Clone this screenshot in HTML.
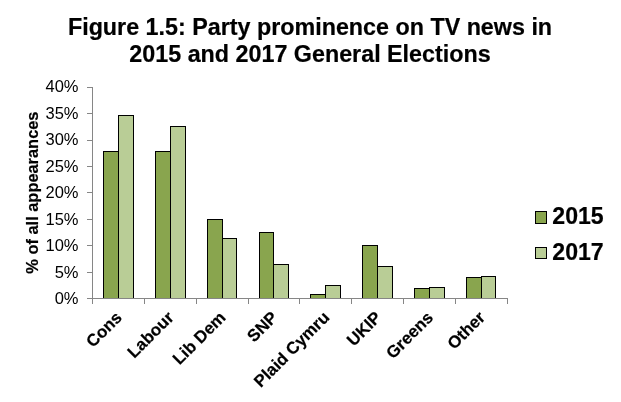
<!DOCTYPE html>
<html><head><meta charset="utf-8"><title>Figure 1.5: Party prominence on TV news in 2015 and 2017 General Elections</title>
<style>
html,body{margin:0;padding:0;background:#fff;}
svg{display:block;will-change:transform;font-family:"Liberation Sans",Arial,sans-serif;}
text{fill:#000;}
.b{font-weight:bold;}
</style></head><body>
<svg width="621" height="402" viewBox="0 0 621 402">
<rect width="621" height="402" fill="#ffffff"/>
<g class="b" font-size="23.3" text-anchor="middle" stroke="#000" stroke-width="0.2" stroke-linejoin="round">
<text transform="translate(310,34.6) scale(1.0,1)">Figure 1.5: Party prominence on TV news in</text>
<text transform="translate(310,61.8) scale(1.0,1)">2015 and 2017 General Elections</text>
</g>
<g font-size="16.5" text-anchor="end">
<text transform="translate(78.5,304) scale(1.0,1)">0%</text>
<text transform="translate(78.5,277.5) scale(1.0,1)">5%</text>
<text transform="translate(78.5,251) scale(1.0,1)">10%</text>
<text transform="translate(78.5,224.5) scale(1.0,1)">15%</text>
<text transform="translate(78.5,198) scale(1.0,1)">20%</text>
<text transform="translate(78.5,171.5) scale(1.0,1)">25%</text>
<text transform="translate(78.5,145) scale(1.0,1)">30%</text>
<text transform="translate(78.5,118.5) scale(1.0,1)">35%</text>
<text transform="translate(78.5,92) scale(1.0,1)">40%</text>
</g>
<g stroke="#000" stroke-width="1" shape-rendering="crispEdges">
<rect x="103.5" y="151.5" width="15" height="147" fill="#89a54e"/>
<rect x="118.5" y="115.5" width="15" height="183" fill="#b9cd96"/>
<rect x="155.5" y="151.5" width="15" height="147" fill="#89a54e"/>
<rect x="170.5" y="126.5" width="15" height="172" fill="#b9cd96"/>
<rect x="207.5" y="219.5" width="15" height="79" fill="#89a54e"/>
<rect x="222.5" y="238.5" width="14" height="60" fill="#b9cd96"/>
<rect x="259.5" y="232.5" width="14" height="66" fill="#89a54e"/>
<rect x="273.5" y="264.5" width="15" height="34" fill="#b9cd96"/>
<rect x="310.5" y="294.5" width="15" height="4" fill="#89a54e"/>
<rect x="325.5" y="285.5" width="15" height="13" fill="#b9cd96"/>
<rect x="362.5" y="245.5" width="15" height="53" fill="#89a54e"/>
<rect x="377.5" y="266.5" width="15" height="32" fill="#b9cd96"/>
<rect x="414.5" y="288.5" width="15" height="10" fill="#89a54e"/>
<rect x="429.5" y="287.5" width="15" height="11" fill="#b9cd96"/>
<rect x="466.5" y="277.5" width="15" height="21" fill="#89a54e"/>
<rect x="481.5" y="276.5" width="14" height="22" fill="#b9cd96"/>
</g>
<g stroke="#868686" stroke-width="1" fill="none" shape-rendering="crispEdges">
<line x1="92.5" y1="87" x2="92.5" y2="299"/>
<line x1="87" y1="298.5" x2="508" y2="298.5"/>
<line x1="87" y1="272.5" x2="92.5" y2="272.5"/>
<line x1="87" y1="245.5" x2="92.5" y2="245.5"/>
<line x1="87" y1="219.5" x2="92.5" y2="219.5"/>
<line x1="87" y1="192.5" x2="92.5" y2="192.5"/>
<line x1="87" y1="166.5" x2="92.5" y2="166.5"/>
<line x1="87" y1="140.5" x2="92.5" y2="140.5"/>
<line x1="87" y1="113.5" x2="92.5" y2="113.5"/>
<line x1="87" y1="87.5" x2="92.5" y2="87.5"/>
<line x1="92.5" y1="298.5" x2="92.5" y2="304"/>
<line x1="144.5" y1="298.5" x2="144.5" y2="304"/>
<line x1="196.5" y1="298.5" x2="196.5" y2="304"/>
<line x1="248.5" y1="298.5" x2="248.5" y2="304"/>
<line x1="299.5" y1="298.5" x2="299.5" y2="304"/>
<line x1="351.5" y1="298.5" x2="351.5" y2="304"/>
<line x1="403.5" y1="298.5" x2="403.5" y2="304"/>
<line x1="455.5" y1="298.5" x2="455.5" y2="304"/>
<line x1="507.5" y1="298.5" x2="507.5" y2="304"/>
</g>
<g class="b" font-size="16.9" text-anchor="end" stroke="#000" stroke-width="0.2" stroke-linejoin="round">
<text transform="translate(122.94,318.5) scale(1.0,1) rotate(-45)">Cons</text>
<text transform="translate(174.81,318.5) scale(1.0,1) rotate(-45)">Labour</text>
<text transform="translate(226.69,318.5) scale(1.0,1) rotate(-45)">Lib Dem</text>
<text transform="translate(278.56,318.5) scale(1.0,1) rotate(-45)">SNP</text>
<text transform="translate(330.44,318.5) scale(1.0,1) rotate(-45)">Plaid Cymru</text>
<text transform="translate(382.31,318.5) scale(1.0,1) rotate(-45)">UKIP</text>
<text transform="translate(434.19,318.5) scale(1.0,1) rotate(-45)">Greens</text>
<text transform="translate(486.06,318.5) scale(1.0,1) rotate(-45)">Other</text>
</g>
<text class="b" transform="translate(37.6,192.6) scale(1.0,1) rotate(-90)" font-size="16.4" text-anchor="middle" stroke="#000" stroke-width="0.2" stroke-linejoin="round">% of all appearances</text>
<g stroke="#000" stroke-width="1" shape-rendering="crispEdges">
<rect x="535.5" y="211.5" width="11" height="12" fill="#89a54e"/>
<rect x="535.5" y="247.5" width="11" height="11" fill="#b9cd96"/>
</g>
<g class="b" font-size="23.1" stroke="#000" stroke-width="0.2" stroke-linejoin="round">
<text transform="translate(552.3,223.6) scale(1.0,1)">2015</text>
<text transform="translate(552.3,259.5) scale(1.0,1)">2017</text>
</g>
</svg>
</body></html>
